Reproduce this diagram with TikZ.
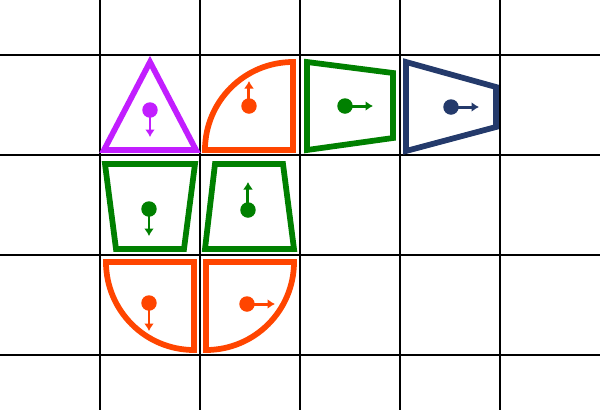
\documentclass[tikz,border=0pt]{standalone}
\usepackage{tikz}
\usetikzlibrary{arrows.meta}
\definecolor{tripurple}{RGB}{194,30,255}
\definecolor{quarterorange}{RGB}{255,69,0}
\definecolor{trapgreen}{RGB}{0,128,0}
\definecolor{trapnavy}{RGB}{36,58,107}
\tikzstyle{gridline} = [line width=0.6pt, black]
\tikzstyle{outline} = [line width=0.115cm, line join=miter]
\tikzstyle{dot} = [circle, minimum size=0.31cm, inner sep=0pt]
\tikzstyle{arrow} = [line width=0.06cm, -{Latex[length=0.15cm, width=0.2cm]}]

\begin{document}
\begin{tikzpicture}[x=0.02cm, y=-0.02cm]
\useasboundingbox (0,0) rectangle (600,410);

% Grid
\foreach \gx in {100,200,300,400,500}
  \draw [gridline] (\gx,0) -- (\gx,410);
\foreach \gy in {55,155,255,355}
  \draw [gridline] (0,\gy) -- (600,\gy);

% First row shapes
\draw [outline, tripurple] (150,62) -- (196,150) -- (104,150) -- cycle;
\draw [outline, quarterorange] (293,150) -- (205,150) arc[start angle=180, end angle=270, radius=88] -- cycle;
\draw [outline, trapgreen] (307,62) -- (393,73) -- (393,138) -- (307,150) -- cycle;
\draw [outline, trapnavy] (406,62) -- (496,87) -- (496,127) -- (406,151) -- cycle;

% Second row shapes
\draw [outline, trapgreen] (105,164) -- (195,164) -- (184,249) -- (116,249) -- cycle;
\draw [outline, trapgreen] (215,164) -- (283,164) -- (294,249) -- (205,249) -- cycle;

% Third row shapes
\draw [outline, quarterorange] (106,262) -- (194,262) -- (194,350) arc[start angle=90, end angle=180, radius=88] -- cycle;
\draw [outline, quarterorange] (206,262) -- (294,262) arc[start angle=0, end angle=90, radius=88] -- cycle;

% Dots
\node (d1) [dot, fill=tripurple] at (150,110) {};
\node (d2) [dot, fill=quarterorange] at (249,106) {};
\node (d3) [dot, fill=trapgreen] at (345,106) {};
\node (d4) [dot, fill=trapnavy] at (451,107) {};
\node (d5) [dot, fill=trapgreen] at (149,209) {};
\node (d6) [dot, fill=trapgreen] at (248,210) {};
\node (d7) [dot, fill=quarterorange] at (149,303) {};
\node (d8) [dot, fill=quarterorange] at (247,304) {};

% Arrow ends
\coordinate (t1) at (150,137);
\coordinate (t2) at (249,81);
\coordinate (t3) at (373,106);
\coordinate (t4) at (479,107);
\coordinate (t5) at (149,236);
\coordinate (t6) at (248,182);
\coordinate (t7) at (149,331);
\coordinate (t8) at (275,304);

% Drawing arrows
\draw [arrow, tripurple] (d1.center) -- (t1);
\draw [arrow, quarterorange] (d2.center) -- (t2);
\draw [arrow, trapgreen] (d3.center) -- (t3);
\draw [arrow, trapnavy] (d4.center) -- (t4);
\draw [arrow, trapgreen] (d5.center) -- (t5);
\draw [arrow, trapgreen] (d6.center) -- (t6);
\draw [arrow, quarterorange] (d7.center) -- (t7);
\draw [arrow, quarterorange] (d8.center) -- (t8);

\end{tikzpicture}
\end{document}
